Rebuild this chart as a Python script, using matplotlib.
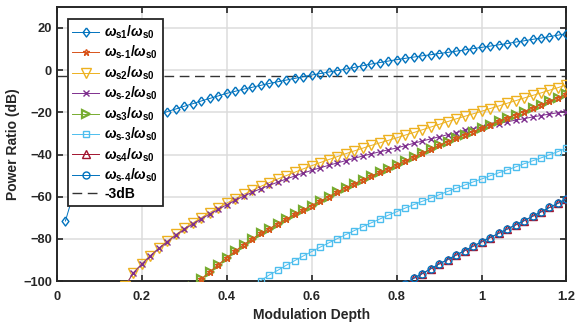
import numpy as np
import matplotlib
matplotlib.use("Agg")
import matplotlib.pyplot as plt

plt.rcParams["font.family"] = ["Liberation Sans", "DejaVu Sans"]
plt.rcParams["font.weight"] = "bold"
plt.rcParams["mathtext.fontset"] = "custom"
plt.rcParams["mathtext.rm"] = "Liberation Sans:bold"
plt.rcParams["mathtext.it"] = "Liberation Sans:italic:bold"
plt.rcParams["mathtext.bf"] = "Liberation Sans:bold"

# modulation depth grid (all series end at 1.2)
depth = np.round(np.arange(0.02, 1.2001, 0.02), 2)

# power ratios in dB
pr_s1 = [-71.5, -57.8, -49.7, -43.9, -39.4, -35.7, -32.6, -29.9, -27.5, -25.3,
         -23.3, -21.4, -19.6, -18.4, -17.1, -15.9, -14.6, -13.4, -12.2, -11.0,
         -10.0, -9.0, -8.1, -7.2, -6.3, -5.5, -4.7, -3.9, -3.1, -2.3,
         -1.6, -0.9, -0.2, 0.5, 1.3, 2.1, 2.9, 3.6, 4.3, 5.0,
         5.6, 6.2, 6.8, 7.3, 7.9, 8.4, 9.0, 9.6, 10.2, 10.8,
         11.4, 12.0, 12.6, 13.3, 13.9, 14.6, 15.2, 15.9, 16.6, 17.3]
pr_s2 = [-102.5, -96.0, -91.8, -87.9, -84.3, -81.0, -77.9, -75.0, -72.4, -69.9,
         -67.5, -65.2, -63.0, -60.9, -58.9, -57.0, -55.1, -53.3, -51.6, -50.0,
         -48.4, -46.8, -45.3, -43.8, -42.4, -41.0, -39.6, -38.3, -37.0, -35.7,
         -34.5, -33.3, -32.1, -30.8, -29.6, -28.3, -27.0, -25.7, -24.4, -23.1,
         -21.9, -20.7, -19.5, -18.2, -17.0, -15.7, -14.5, -13.2, -12.0, -10.8,
         -9.5, -8.3, -6.9]
pr_sm2 = [-102.5, -96.1, -91.9, -88.0, -84.5, -81.3, -78.2, -75.5, -72.9, -70.5,
          -68.2, -66.0, -63.8, -61.7, -59.7, -57.9, -56.2, -54.6, -53.1, -51.6,
          -50.2, -48.8, -47.5, -46.3, -45.1, -44.0, -42.9, -41.8, -40.7, -39.7,
          -38.7, -37.8, -36.9, -35.8, -34.7, -33.6, -32.6, -31.6, -30.6, -29.6,
          -28.6, -27.7, -26.9, -26.1, -25.3, -24.5, -23.7, -23.0, -22.2, -21.5,
          -20.8, -20.2, -19.6]
pr_s3 = [-102.8, -99.0, -95.6, -92.3, -88.9, -85.8, -82.8, -80.0, -77.4, -75.2,
         -72.9, -70.6, -68.4, -66.3, -64.2, -62.1, -60.0, -57.8, -55.8, -53.9,
         -52.0, -50.2, -48.5, -46.8, -45.0, -43.0, -41.2, -39.4, -37.6, -35.7,
         -34.0, -32.3, -30.7, -29.1, -27.5, -25.8, -24.3, -22.7, -21.2, -19.6,
         -18.0, -16.4, -14.8, -13.1, -11.3]
pr_sm1 = list(pr_s3)  # lies on top of s3
pr_sm3 = [-103.0, -99.8, -97.1, -94.9, -92.5, -90.3, -88.1, -86.0, -83.9, -81.9,
          -79.9, -78.0, -76.1, -74.2, -72.4, -70.6, -68.8, -67.1, -65.4, -63.8,
          -62.2, -60.7, -59.1, -57.5, -56.0, -54.5, -53.0, -51.6, -50.1, -48.7,
          -47.3, -45.9, -44.4, -43.0, -41.6, -40.1, -38.6, -37.0]
pr_s4 = [-101.5, -98.7, -96.5, -94.2, -91.9, -89.8, -87.7, -85.6, -83.5, -81.4,
         -79.4, -77.4, -75.4, -73.4, -71.4, -69.3, -67.2, -65.1, -63.1, -61.0]
pr_sm4 = list(pr_s4)
ref_db = -3

# MATLAB-like diamond, a bit taller than wide
diamond = [(0, 1), (0.75, 0), (0, -1), (-0.75, 0), (0, 1)]


def lab(sub):
    return r"$\omega_{\text{" + sub + r"}}/\omega_{\text{s0}}$"


series = [
    (lab("s1"), pr_s1, "#0072BD", diamond, 6.5, 1.0),
    (lab("s-1"), pr_sm1, "#D95319", "*", 5.0, 1.0),
    (lab("s2"), pr_s2, "#EDB120", "v", 7.0, 1.0),
    (lab("s-2"), pr_sm2, "#7E2F8E", "x", 4.5, 1.0),
    (lab("s3"), pr_s3, "#77AC30", ">", 6.0, 1.6),
    (lab("s-3"), pr_sm3, "#4DBEEE", "s", 4.0, 1.0),
    (lab("s4"), pr_s4, "#A2142F", "^", 5.5, 1.0),
    (lab("s-4"), pr_sm4, "#0072BD", "o", 5.0, 1.0),
]

fig = plt.figure(figsize=(5.81, 3.28), dpi=100)
ax = fig.add_axes([0.098, 0.143, 0.877, 0.836])

for i, (label, vals, color, marker, ms, mew) in enumerate(series):
    x = depth[-len(vals):]
    z = 20 if color == "#D95319" else 3 + i  # orange stars sit inside the green triangles
    ax.plot(x, vals, color=color, lw=0.7, marker=marker, ms=ms,
            mfc="none", mec=color, mew=mew, label=label, zorder=z)

ax.plot([0, 1.2], [ref_db, ref_db], color="#333333", lw=1.0, ls=(0, (7, 4)),
        label="-3dB", zorder=2.5)

ax.set_xlim(0, 1.2)
ax.set_ylim(-100, 30)
ax.set_xticks([0, 0.2, 0.4, 0.6, 0.8, 1, 1.2])
ax.set_xticklabels(["0", "0.2", "0.4", "0.6", "0.8", "1", "1.2"])
ax.set_yticks([-100, -80, -60, -40, -20, 0, 20])
ax.grid(True, color="#dcdcdc", lw=1.1)
ax.set_axisbelow(True)
ax.tick_params(direction="in", length=4, width=1.2, top=True, right=True,
               labelsize=9.3, colors="#262626")
ax.tick_params(axis="x", pad=7)
ax.tick_params(axis="y", pad=3.5)
for s in ax.spines.values():
    s.set_linewidth(1.4)
    s.set_color("#262626")
ax.set_xlabel("Modulation Depth", fontsize=10, fontweight="bold", color="#262626", labelpad=4)
ax.set_ylabel("Power Ratio (dB)", fontsize=10, fontweight="bold", color="#262626", labelpad=2)

leg = ax.legend(loc="upper left", bbox_to_anchor=(0.021, 0.957), borderaxespad=0,
                fontsize=10, frameon=True, fancybox=False, framealpha=1,
                edgecolor="#262626", handlelength=1.9, labelspacing=0.22,
                borderpad=0.35, handletextpad=0.4)
leg.get_frame().set_linewidth(1.3)
leg.set_zorder(30)

fig.savefig("out.png", dpi=100)
